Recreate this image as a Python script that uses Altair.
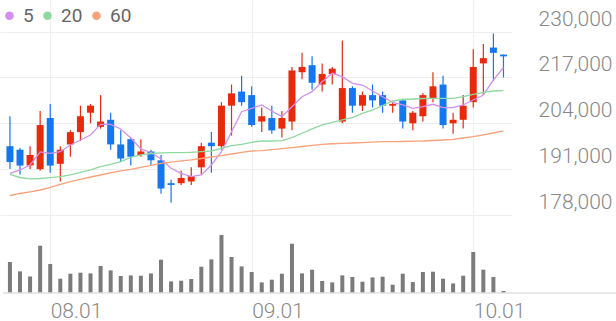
import altair as alt
import pandas as pd

# ---- data ----
opens = [197500, 196500, 192000, 191000, 205500, 192500, 198000, 201500, 207000, 203000,
         205000, 198000, 199500, 195000, 196000, 193500, 187000, 187000, 187500, 191500,
         198500, 197500, 209000, 213000, 212000, 204500, 205500, 202500, 204500, 218500,
         220500, 215000, 218000, 204500, 214000, 209000, 212000, 212000, 209000, 210500,
         204000, 206000, 211000, 215000, 204000, 205000, 210000, 221000, 225500, 223500]
highs = [206000, 197000, 197500, 207500, 209500, 197500, 202000, 209000, 209500, 212000,
         207000, 202000, 200000, 199500, 196500, 195000, 188000, 190500, 191500, 198500,
         201500, 210000, 215000, 217500, 214500, 208500, 209000, 207500, 220000, 224000,
         223000, 221000, 220000, 227500, 214500, 213000, 215000, 213000, 210000, 211000,
         207500, 212500, 218500, 217500, 207000, 212000, 225000, 226500, 229500, 223500]
lows = [191000, 189500, 191000, 190500, 190000, 187500, 194500, 199000, 204000, 202500,
        196500, 193000, 192000, 194500, 192000, 184000, 181500, 186500, 186500, 189500,
        190000, 196500, 200500, 209000, 203000, 201500, 201000, 200000, 202000, 216500,
        213500, 213000, 215000, 204000, 207000, 207500, 208500, 207000, 207000, 202500,
        202000, 204500, 210000, 202500, 201000, 202500, 208500, 212000, 216000, 217000]
closes = [193000, 192000, 195000, 203500, 192000, 196500, 201500, 206000, 209000, 204500,
          198000, 194000, 194500, 196000, 193500, 185500, 186500, 188500, 189000, 197500,
          197500, 209000, 212500, 210000, 203500, 206000, 202000, 205500, 219000, 220000,
          215500, 218000, 219500, 214000, 209000, 212000, 210500, 209000, 209500, 204500,
          207000, 212000, 214500, 203500, 205000, 209000, 220000, 222500, 224000, 223000]
volumes = [310000, 216000, 166000, 473000, 290000, 143000, 193000, 203000, 196000, 270000,
           226000, 170000, 176000, 173000, 196000, 333000, 116000, 123000, 140000, 263000,
           336000, 580000, 360000, 266000, 210000, 106000, 133000, 193000, 493000, 196000,
           233000, 120000, 106000, 176000, 160000, 113000, 156000, 163000, 83000, 193000,
           110000, 210000, 213000, 143000, 96000, 173000, 410000, 233000, 160000, 20000]
ma5 = [189810, 190750, 192170, 195860, 195490, 195940, 197850, 199260, 200680, 203720,
       203720, 202390, 199830, 196710, 195720, 193870, 191230, 189810, 188850, 189330,
       192170, 195940, 201620, 207300, 208260, 209200, 207500, 205880, 208720, 211550,
       212970, 215810, 218190, 217230, 215360, 214870, 213170, 211550, 209960, 209200,
       208260, 208720, 209400, 208430, 208430, 209200, 210620, 212040, 216290, 219780]
ma20 = [189530, 188620, 188250, 188340, 188570, 188850, 189330, 190040, 190750, 191690,
        192370, 193110, 194300, 195010, 195430, 195630, 195660, 195660, 195770, 195940,
        196140, 196910, 197650, 198040, 198610, 198980, 198980, 199070, 199920, 201170,
        202390, 203520, 204290, 204940, 205590, 206840, 207780, 209000, 210330, 210760,
        210900, 211040, 211100, 211100, 211100, 211550, 212230, 212800, 213170, 213260]
ma60 = [183510, 184080, 184560, 185070, 185780, 186640, 187430, 188110, 188760, 189330,
        189900, 190470, 190950, 191520, 192080, 192650, 192960, 193310, 193590, 194010,
        194440, 194810, 195290, 195720, 196140, 196230, 196510, 196800, 197080, 197420,
        197760, 198040, 198190, 198300, 198410, 198530, 198640, 198780, 198780, 198840,
        198920, 198980, 199120, 199260, 199460, 199830, 200200, 200740, 201250, 201820]

tick_idx = [4, 24, 46]
tick_labels = ["08.01", "09.01", "10.01"]
price_ticks = [178000, 191000, 204000, 217000, 230000]
ma_names = ["5", "20", "60"]
ma_colors = ["#D38FEC", "#8FD9A0", "#F8A27C"]
UP = "#E8290B"
DOWN = "#1477F0"

n = len(closes)
df = pd.DataFrame({
    "i": list(range(n)), "open": opens, "high": highs, "low": lows,
    "close": closes, "volume": volumes,
    "5": ma5, "20": ma20, "60": ma60,
})

label_expr = " : ".join(
    f"datum.value == {v} ? '{t}'" for v, t in zip(tick_idx[:-1], tick_labels[:-1])
) + f" : '{tick_labels[-1]}'"

FONT = "Roboto"
x_axis = alt.Axis(values=tick_idx, grid=True, gridColor="#eeeeee", domain=False,
                  ticks=False, labelAlign="left", labelBaseline="top", labelPadding=7,
                  labelFontSize=21, labelColor="#888888", labelFont=FONT,
                  labelFontWeight=300, labelExpr=label_expr, title=None)
x_enc = alt.X("i:Q", scale=alt.Scale(domain=[-0.49, 49.35], nice=False, zero=False),
              axis=x_axis)

y_scale = alt.Scale(domain=[155835, 238996], nice=False, zero=False)
y_axis = alt.Axis(orient="right", values=price_ticks, format=",d", grid=True,
                  gridColor="#eeeeee", domain=False, ticks=False, labelAlign="right",
                  labelPadding=100, labelBaseline="middle", labelOffset=-12.5,
                  labelFontSize=21, labelColor="#888888", labelFont=FONT,
                  labelFontWeight=300, title=None)

color_cond = alt.condition("datum.close >= datum.open", alt.value(UP), alt.value(DOWN))

base = alt.Chart(df)

wick = base.mark_rule(strokeWidth=1.2).encode(
    x=x_enc,
    y=alt.Y("low:Q", scale=y_scale, axis=y_axis),
    y2="high:Q",
    color=color_cond,
)
body = base.mark_bar(size=7).encode(
    x=x_enc,
    y=alt.Y("open:Q", scale=y_scale, axis=y_axis),
    y2="close:Q",
    color=color_cond,
)
folded = base.transform_fold(ma_names, as_=["ma", "value"])
ma = folded.mark_line(strokeWidth=1.3).encode(
    x=x_enc,
    y=alt.Y("value:Q", scale=y_scale, axis=y_axis),
    color=alt.Color("ma:N", sort=ma_names,
                    scale=alt.Scale(domain=ma_names, range=ma_colors), legend=None),
)
# empty layer that only supplies the filled-circle legend
ma_key = folded.transform_filter("false").mark_circle(size=75, opacity=1).encode(
    x=x_enc,
    y=alt.Y("value:Q", scale=y_scale, axis=y_axis),
    color=alt.Color("ma:N", sort=ma_names,
                    scale=alt.Scale(domain=ma_names, range=ma_colors),
                    legend=alt.Legend(orient="none", legendX=0, legendY=6,
                                      direction="horizontal", title=None,
                                      symbolType="circle", symbolSize=75,
                                      symbolStrokeWidth=0, labelFontSize=19,
                                      labelColor="#666666", labelFont=FONT,
                                      labelOffset=4, columnPadding=4, padding=0)),
)
price = alt.layer(wick, body, ma, ma_key).resolve_scale(color="independent")

vol = base.mark_bar(size=4, color="#7b7b7b").encode(
    x=x_enc,
    y=alt.Y("volume:Q", scale=alt.Scale(domain=[0, 2930000], nice=False, zero=True),
            axis=None),
)
baseline = alt.Chart(pd.DataFrame({"k": [0]})).mark_rule(color="#e0e0e0", strokeWidth=1.5).encode(
    x=alt.value(3), x2=alt.value(616), y=alt.value(293)
)

chart = alt.layer(price, vol, baseline).resolve_scale(y="independent").properties(
    width=512, height=293, background="white",
    autosize=alt.AutoSizeParams(type="none"),
    padding={"left": 0, "top": 0, "right": 104, "bottom": 28},
).configure_view(strokeWidth=0)

chart.save("out.html", embed_options={"renderer": "svg", "actions": False})
